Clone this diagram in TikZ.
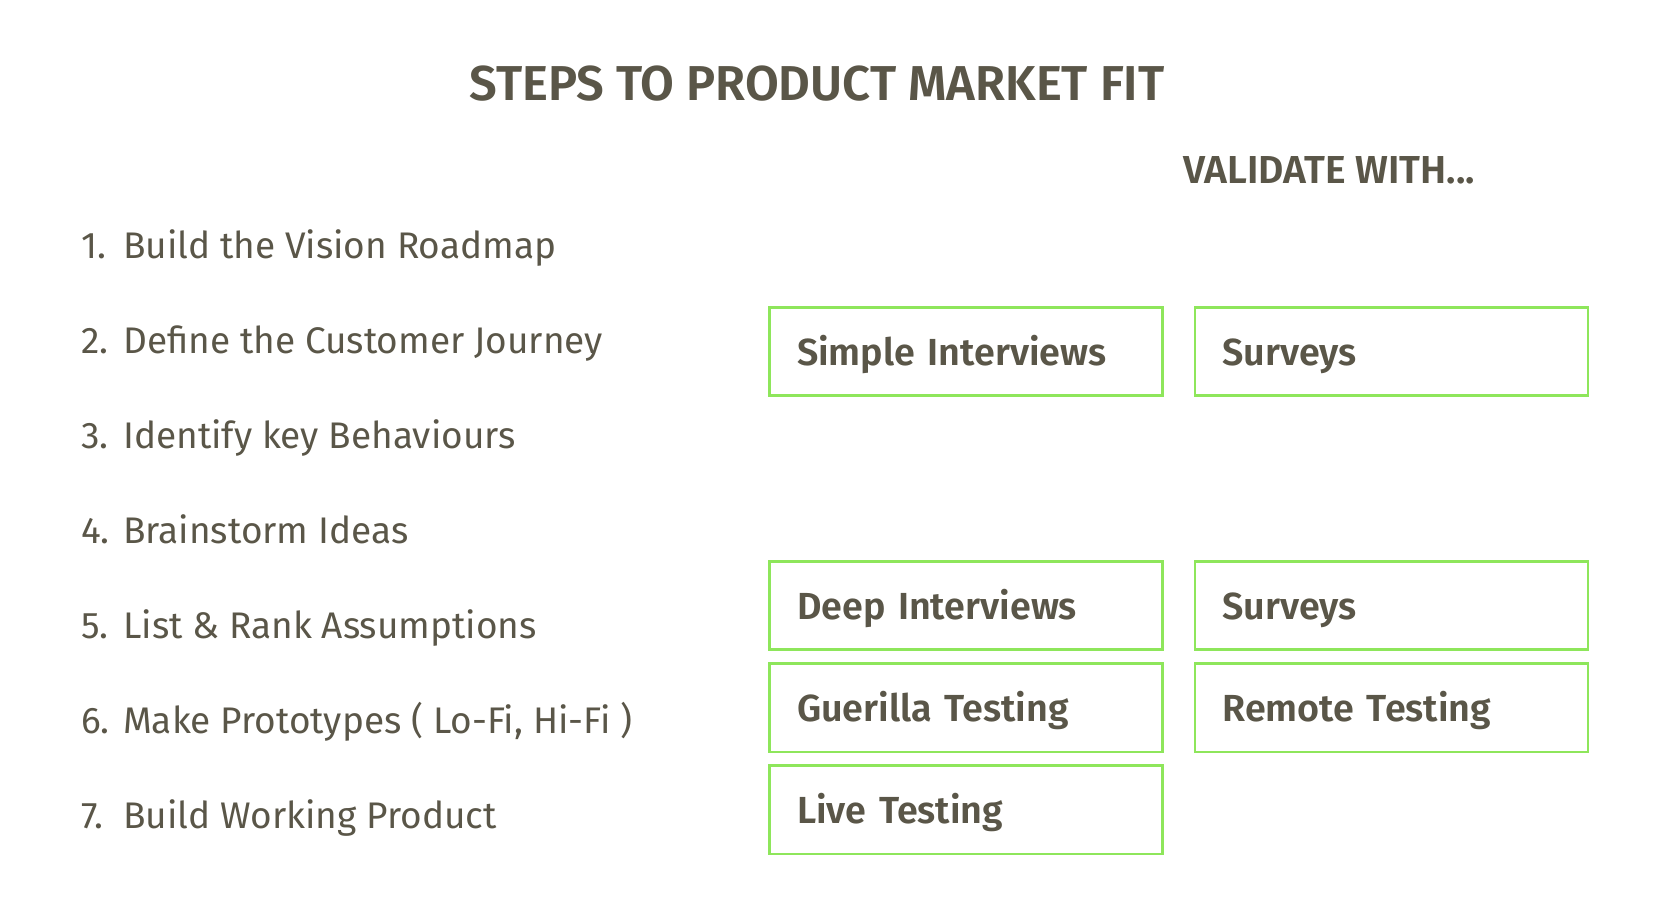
\documentclass[tikz,border=0pt]{standalone}
\usepackage{fontspec}
\setmainfont{Fira Sans}
\newfontfamily\semibold{Fira Sans SemiBold}
\usetikzlibrary{positioning}
\definecolor{inkgray}{HTML}{5A5648}
\definecolor{leafgreen}{HTML}{8EE65B}

\begin{document}
\begin{tikzpicture}[x=1pt,y=-1pt,
    steptext/.style={anchor=base west,inner sep=0pt,text=inkgray,font=\fontsize{37}{44}\selectfont},
    methodbox/.style={draw=leafgreen,line width=2.6pt,minimum width=393pt,minimum height=88.5pt,
      text width=338pt,inner xsep=27.5pt,inner ysep=0pt,align=left,text=inkgray,
      text height=28pt,text depth=0pt,font=\semibold\fontsize{37.7}{44}\selectfont}]
        \useasboundingbox (0,0) rectangle (1672,920);

        % Headings
        \node[anchor=base,inner sep=0pt,text=inkgray,font=\semibold\fontsize{49}{58}\selectfont] (title) at (817,101) {STEPS TO PRODUCT MARKET FIT};
        \node[steptext,font=\semibold\fontsize{39}{46}\selectfont] (validate) at (1183,183) {VALIDATE WITH...};

        % Steps
        \foreach \t [count=\i] in {Build the Vision Roadmap,Define the Customer Journey,Identify key Behaviours,
            Brainstorm Ideas,List \& Rank Assumptions,{Make Prototypes ( Lo-Fi, Hi-Fi )},Build Working Product}
          \node[steptext] (step\i) at (81,{258+95*(\i-1)}) {\makebox[42pt][l]{\i.}\t};

        % Validation methods
        \node[methodbox] (simple) at (966,351.5) {Simple Interviews};
        \node[methodbox,right=30pt of simple] (surveysA) {Surveys};
        \node[methodbox] (deep) at (966,605.5) {Deep Interviews};
        \node[methodbox,right=30pt of deep] (surveysB) {Surveys};
        \node[methodbox,below=11pt of deep] (guerilla) {Guerilla Testing};
        \node[methodbox,right=30pt of guerilla] (remote) {Remote Testing};
        \node[methodbox,below=11pt of guerilla] (live) {Live Testing};

      \end{tikzpicture}
\end{document}
